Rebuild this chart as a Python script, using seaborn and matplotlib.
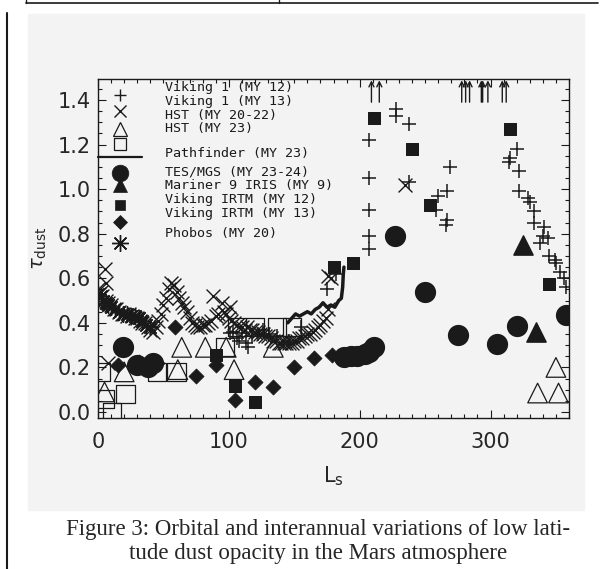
import numpy as np
import pandas as pd
import matplotlib
matplotlib.use('Agg')
import matplotlib.pyplot as plt
import seaborn as sns
from matplotlib.patches import Rectangle
from matplotlib.lines import Line2D

# ---- data (Ls in degrees, dust optical depth) ----

# Viking 1 lander, MY 12 (+)
vl12_ls = [101, 103, 106, 108, 110, 113, 115, 118, 122, 126, 131, 137, 146, 155, 175, 182,
           207, 207, 207, 207, 207, 228, 228, 238, 238, 258, 260, 266, 267, 267, 269,
           314, 315, 320, 322, 322, 329, 330, 333, 333, 338, 340, 341, 344, 345, 349,
           350, 353, 356, 358]
vl12_tau = [0.355, 0.36, 0.33, 0.32, 0.355, 0.31, 0.29, 0.34, 0.35, 0.37, 0.35, 0.34, 0.32, 0.38, 0.55, 0.62,
            0.73, 0.79, 0.905, 1.05, 1.22, 1.36, 1.33, 1.29, 1.03, 0.905, 0.97, 0.84, 0.86, 0.99, 1.10,
            1.12, 1.14, 1.18, 1.08, 0.99, 0.96, 0.94, 0.90, 0.85, 0.76, 0.79, 0.83, 0.78, 0.70, 0.68,
            0.67, 0.63, 0.60, 0.56]
# Viking 1 MY 12 values off the top of the plot
vl12_off_ls = [209, 215, 278, 281, 284, 293, 294, 298, 309, 312]

# Viking 1 lander, MY 13 (x)
vl13_ls = [0, 1, 2, 3, 5, 6, 6, 8, 8, 10, 12, 14, 16, 18, 20, 22, 24, 26, 28, 30, 32, 34, 36, 38, 40,
           42, 44, 46, 48, 50, 52, 54, 56, 58, 60, 62, 64, 66, 68, 70, 72, 74, 76, 78, 80, 82, 84, 86,
           88, 90, 92, 95, 96, 98, 100, 101, 102, 104, 106, 108, 110, 112, 114, 116, 118, 120, 122,
           124, 126, 128, 130, 132, 134, 136, 138, 140, 142, 144, 146, 148, 150, 152, 154, 156, 158,
           160, 162, 164, 166, 168, 170, 172, 174, 176, 176, 178, 235]
vl13_tau = [0.55, 0.53, 0.54, 0.52, 0.64, 0.58, 0.50, 0.49, 0.22, 0.48, 0.46, 0.46, 0.45, 0.44, 0.44,
            0.43, 0.44, 0.43, 0.42, 0.42, 0.41, 0.40, 0.40, 0.38, 0.37, 0.36, 0.38, 0.41, 0.44, 0.48,
            0.51, 0.55, 0.58, 0.57, 0.54, 0.51, 0.49, 0.47, 0.45, 0.42, 0.40, 0.39, 0.38, 0.38, 0.39,
            0.39, 0.40, 0.41, 0.52, 0.43, 0.44, 0.49, 0.45, 0.44, 0.42, 0.47, 0.41, 0.40, 0.39, 0.38,
            0.38, 0.37, 0.38, 0.37, 0.37, 0.36, 0.36, 0.35, 0.35, 0.34, 0.34, 0.33, 0.32, 0.32, 0.31,
            0.31, 0.31, 0.31, 0.31, 0.31, 0.32, 0.32, 0.33, 0.33, 0.34, 0.35, 0.35, 0.36, 0.37, 0.38,
            0.39, 0.41, 0.42, 0.46, 0.61, 0.60, 1.02]

# HST, MY 20-22 (open triangles)
hst1_ls = [5, 20, 61, 64, 82, 98, 104, 134, 336, 350, 352]
hst1_tau = [0.09, 0.18, 0.19, 0.29, 0.29, 0.29, 0.19, 0.29, 0.085, 0.20, 0.085]

# HST, MY 23 (open squares)
hst2_ls = [2, 5, 11, 21, 45, 60, 97, 106, 120, 137, 148]
hst2_tau = [0.18, 0.06, 0.0, 0.08, 0.18, 0.18, 0.29, 0.38, 0.38, 0.38, 0.38]

# Pathfinder, MY 23 (line)
pf_ls = [145, 148, 151, 154, 157, 160, 163, 166, 169, 172, 175, 178, 181, 184, 186, 187, 187.5, 188]
pf_tau = [0.40, 0.42, 0.44, 0.43, 0.44, 0.45, 0.44, 0.46, 0.47, 0.49, 0.47, 0.48, 0.47, 0.50, 0.51,
          0.56, 0.62, 0.65]

# TES/MGS, MY 23-24 (filled circles)
tes_ls = [19, 30, 38, 42, 188, 193, 198, 204, 207, 211, 227, 250, 275, 305, 320, 358]
tes_tau = [0.29, 0.21, 0.20, 0.22, 0.245, 0.25, 0.25, 0.26, 0.27, 0.29, 0.79, 0.54, 0.345, 0.305,
           0.385, 0.435]

# Mariner 9 IRIS, MY 9 (filled triangles)
m9_ls = [325, 335]
m9_tau = [0.75, 0.36]

# Viking IRTM, MY 12 (filled squares)
irtm12_ls = [90, 105, 120, 180, 195, 211, 240, 254, 315, 345]
irtm12_tau = [0.255, 0.115, 0.045, 0.65, 0.67, 1.32, 1.18, 0.93, 1.27, 0.575]

# Viking IRTM, MY 13 (filled diamonds)
irtm13_ls = [15, 31, 45, 59, 75, 90, 105, 120, 134, 150, 165, 179]
irtm13_tau = [0.21, 0.225, 0.22, 0.38, 0.16, 0.21, 0.055, 0.135, 0.11, 0.20, 0.24, 0.255]

# Phobos, MY 20 (asterisks)
phobos_ls = [0, 2, 4, 6, 8, 10, 13, 16, 19, 22, 25, 28, 31, 34, 37, 40]
phobos_tau = [0.53, 0.52, 0.50, 0.49, 0.48, 0.47, 0.46, 0.45, 0.44, 0.44, 0.43, 0.43, 0.42, 0.41,
              0.39, 0.38]

legend_labels = ['Viking 1 (MY 12)', 'Viking 1 (MY 13)', 'HST (MY 20-22)', 'HST (MY 23)',
                 'Pathfinder (MY 23)', 'TES/MGS (MY 23-24)', 'Mariner 9 IRIS (MY 9)',
                 'Viking IRTM (MY 12)', 'Viking IRTM (MY 13)', 'Phobos (MY 20)']

caption = ['Figure 3: Orbital and interannual variations of low lati-',
           'tude dust opacity in the Mars atmosphere']

# ---- style ----
sns.set_theme(style='ticks')
plt.rcParams['font.family'] = ['DejaVu Sans']
plt.rcParams['mathtext.fontset'] = 'dejavusans'
plt.rcParams['xtick.direction'] = 'in'
plt.rcParams['ytick.direction'] = 'in'

panel = '#f3f3f3'
asterisk = (8, 2, 0)

fig = plt.figure(figsize=(6.01, 5.69), dpi=100, facecolor='white')
fig.patches.append(Rectangle((28 / 601, 1 - 510 / 569), 556 / 601, 496 / 569,
                             transform=fig.transFigure, color=panel, zorder=-10))
# bits of the page frame
fig.add_artist(Line2D([7 / 601, 7 / 601], [0, 1 - 13 / 569], color='k', lw=1.5))
fig.add_artist(Line2D([26 / 601, 598 / 601], [1 - 3 / 569, 1 - 3 / 569], color='k', lw=1.2))
fig.add_artist(Line2D([26 / 601, 26 / 601], [1 - 3 / 569, 1], color='k', lw=1.0))
fig.add_artist(Line2D([279 / 601, 279 / 601], [1 - 3 / 569, 1], color='k', lw=1.0))

ax = fig.add_axes([98 / 601, 151 / 569, 471 / 601, 339 / 569])
ax.set_facecolor(panel)

# data series
sns.scatterplot(x=vl13_ls, y=vl13_tau, marker='x', s=100, color='k', linewidth=1.0, ax=ax)
sns.scatterplot(x=phobos_ls, y=phobos_tau, marker=asterisk, s=130, color='k', linewidth=1.0, ax=ax)
sns.scatterplot(x=vl12_ls, y=vl12_tau, marker='+', s=90, color='k', linewidth=1.1, ax=ax)
sns.scatterplot(x=hst1_ls, y=hst1_tau, marker='^', s=200, color='k', facecolor='none',
                edgecolor='k', linewidth=0.9, ax=ax)
sns.scatterplot(x=hst2_ls, y=hst2_tau, marker='s', s=170, color='k', facecolor='none',
                edgecolor='k', linewidth=0.9, ax=ax)
sns.lineplot(x=pf_ls, y=pf_tau, color='k', lw=2.5, sort=False, estimator=None, ax=ax)
sns.scatterplot(x=tes_ls, y=tes_tau, marker='o', s=200, color='k', edgecolor='k', ax=ax)
sns.scatterplot(x=m9_ls, y=m9_tau, marker='^', s=190, color='k', edgecolor='k', ax=ax)
sns.scatterplot(x=irtm12_ls, y=irtm12_tau, marker='s', s=81, color='k', edgecolor='k', ax=ax)
sns.scatterplot(x=irtm13_ls, y=irtm13_tau, marker='D', s=58, color='k', edgecolor='k', ax=ax)

for ls in vl12_off_ls:
    ax.annotate('', xy=(ls, 1.488), xytext=(ls, 1.39),
                arrowprops=dict(arrowstyle='->', lw=1.0, color='k', shrinkA=0, shrinkB=0,
                                mutation_scale=9))

# legend keys and labels (placed in axes fraction)
key_x = 0.047
key_y = [0.953, 0.906, 0.853, 0.808, 0.770, 0.723, 0.687, 0.628, 0.578, 0.516]
key_style = [dict(marker='+', ms=9, mew=1.0, mfc='k'),
             dict(marker='x', ms=9, mew=1.0, mfc='k'),
             dict(marker='^', ms=10, mew=0.9, mfc='none'),
             dict(marker='s', ms=8.5, mew=0.9, mfc='none'),
             None,
             dict(marker='o', ms=12, mew=0.5, mfc='k'),
             dict(marker='^', ms=10, mew=0.5, mfc='k'),
             dict(marker='s', ms=7.5, mew=0.5, mfc='k'),
             dict(marker='D', ms=7.5, mew=0.5, mfc='k'),
             dict(marker=asterisk, ms=12, mew=1.0, mfc='k')]
for yk, st in zip(key_y, key_style):
    if st is None:
        ax.plot([0, 0.0934], [yk, yk], color='k', lw=1.6, transform=ax.transAxes, clip_on=False)
    else:
        ax.plot([key_x], [yk], ls='none', color='k', mec='k', transform=ax.transAxes,
                clip_on=False, **st)

# label rows in pixel rows of the original, converted to axes fraction
text_x = 0.1423
text_rows = [88, 101.5, 115, 128.5, 154, 172, 186, 200, 214, 233]
for row, lab in zip(text_rows, legend_labels):
    ax.text(text_x, (418 - row) / 339, lab, transform=ax.transAxes, ha='left', va='center',
            family='DejaVu Sans Mono', fontsize=9.6, color='k')

# axes
ax.set_xlim(0, 360)
ax.set_ylim(-0.027, 1.494)
ax.set_xticks([0, 100, 200, 300])
ax.set_xticks(np.arange(0, 361, 10), minor=True)
ax.set_yticks(np.arange(0, 1.41, 0.2))
ax.set_yticks(np.arange(0, 1.46, 0.05), minor=True)
ax.set_yticklabels([f'{v:.1f}' for v in np.arange(0, 1.41, 0.2)])
ax.tick_params(which='both', top=True, right=True, color='k', width=0.8)
ax.tick_params(which='major', length=6)
ax.tick_params(which='minor', length=3)
ax.tick_params(axis='x', which='major', labelsize=15, pad=10)
ax.tick_params(axis='y', which='major', labelsize=15, pad=5)
for sp in ax.spines.values():
    sp.set_linewidth(1.0)
    sp.set_color('k')

ax.set_xlabel(r'$\mathrm{L_s}$', fontsize=15, labelpad=9)
ax.set_ylabel(r'$\tau_{\mathrm{dust}}$', fontsize=14, labelpad=6)

# caption
fig.text(318 / 601, 1 - 530 / 569, caption[0], ha='center', va='center',
         family='Liberation Serif', fontsize=16.5)
fig.text(318 / 601, 1 - 553 / 569, caption[1], ha='center', va='center',
         family='Liberation Serif', fontsize=16.5)

fig.savefig('out.png', dpi=100, facecolor='white')
